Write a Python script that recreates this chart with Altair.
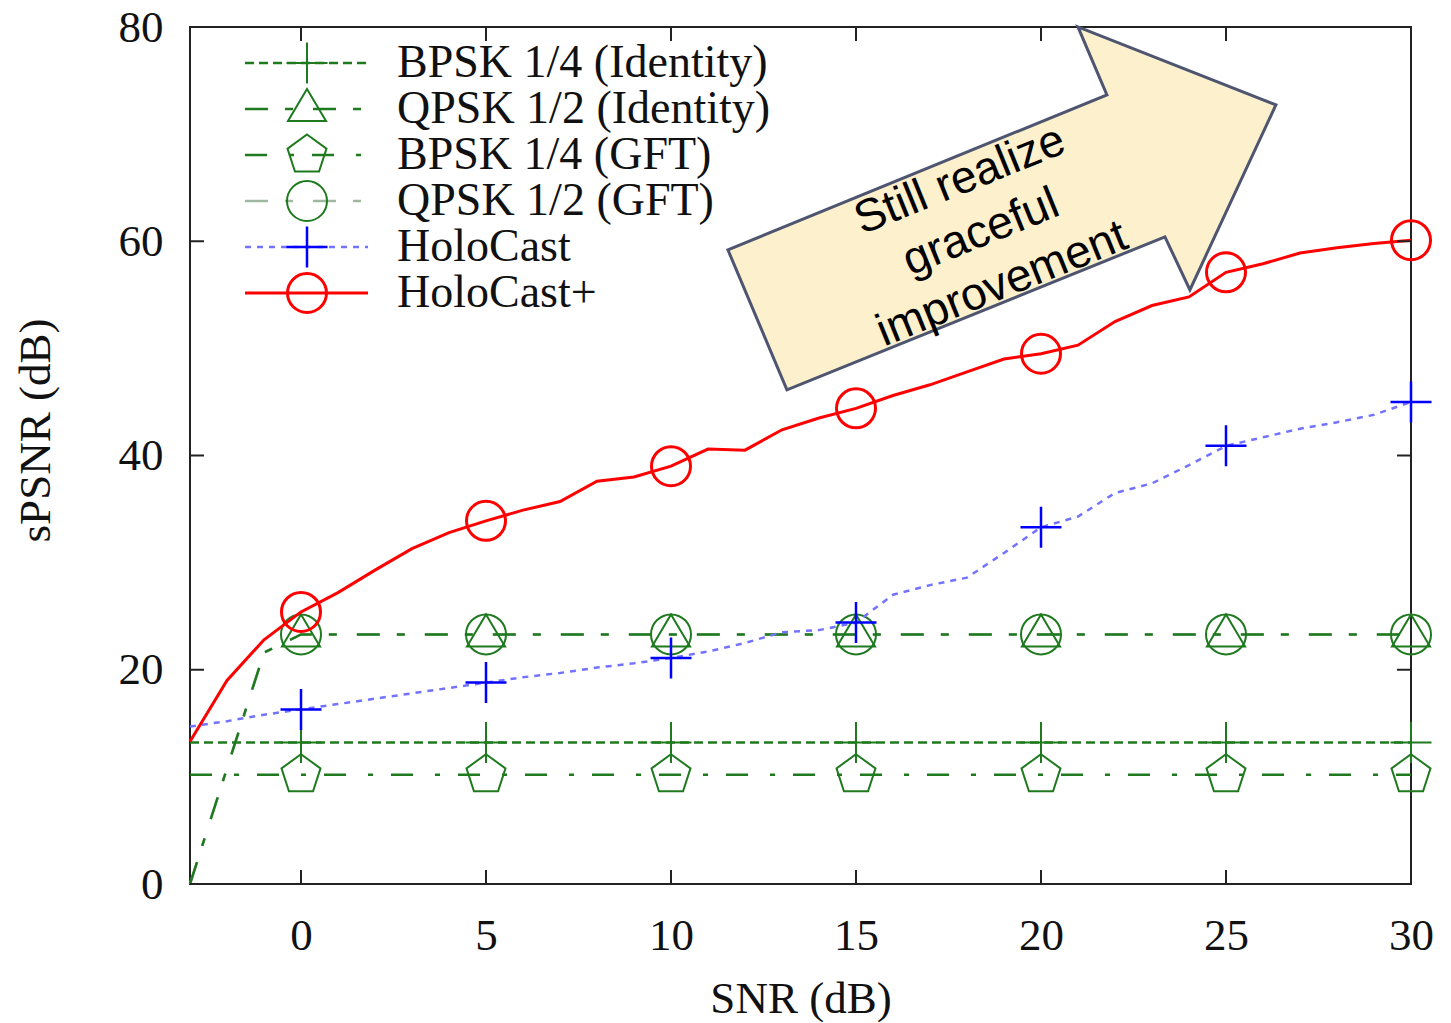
import altair as alt
import pandas as pd

# ---------------- data ----------------
series_names = ["BPSK 1/4 (Identity)", "QPSK 1/2 (Identity)", "BPSK 1/4 (GFT)",
                "QPSK 1/2 (GFT)", "HoloCast", "HoloCast+"]

snr_green = [-3, -2, -1, 0, 5, 10, 15, 20, 25, 30]
bpsk_identity = [13.2, 13.2, 13.2, 13.2, 13.2, 13.2, 13.2, 13.2, 13.2, 13.2]
qpsk_identity = [0.0, 10.8, 21.6, 23.3, 23.3, 23.3, 23.3, 23.3, 23.3, 23.3]
bpsk_gft = [10.2, 10.2, 10.2, 10.2, 10.2, 10.2, 10.2, 10.2, 10.2, 10.2]
qpsk_gft = [0.0, 10.8, 21.6, 23.3, 23.3, 23.3, 23.3, 23.3, 23.3, 23.3]

snr_fine = [-3, -2, -1, 0, 1, 2, 3, 4, 5, 6, 7, 8, 9, 10, 11, 12, 13, 14, 15, 16,
            17, 18, 19, 20, 21, 22, 23, 24, 25, 26, 27, 28, 29, 30]
holocast = [14.7, 15.2, 15.8, 16.3, 16.8, 17.3, 17.8, 18.3, 18.8, 19.3, 19.7, 20.2,
            20.6, 21.1, 21.7, 22.5, 23.5, 23.7, 24.4, 27.0, 27.9, 28.6, 30.9, 33.3,
            34.3, 36.5, 37.4, 39.1, 40.9, 41.7, 42.5, 43.1, 43.8, 45.0]
holocast_plus = [13.3, 19.0, 22.8, 25.4, 27.2, 29.3, 31.3, 32.8, 33.9, 34.9, 35.7, 37.6,
                 38.0, 39.0, 40.6, 40.5, 42.4, 43.5, 44.4, 45.6, 46.6, 47.8, 49.0, 49.5,
                 50.3, 52.5, 54.0, 54.8, 57.1, 57.9, 58.9, 59.4, 59.8, 60.1]

x_ticks = [0, 5, 10, 15, 20, 25, 30]
y_ticks = [0, 20, 40, 60, 80]

annotation_lines = ["Still realize", "graceful", "improvement"]
arrow_x = [18.89]
arrow_y = [62.93]
text_x = [17.81]
text_y = [65.7]

# ---------------- table ----------------
series_x = [snr_green, snr_green, snr_green, snr_green, snr_fine, snr_fine]
series_y = [bpsk_identity, qpsk_identity, bpsk_gft, qpsk_gft, holocast, holocast_plus]
rows = []
for name, xs, ys in zip(series_names, series_x, series_y):
    for xv, yv in zip(xs, ys):
        rows.append({"series": name, "snr": xv, "val": yv})
df = pd.DataFrame(rows)

# ---------------- styles ----------------
GREEN = "#1f7a1f"
PLUS = "M-1,0L1,0M0,-1L0,1"
TRI = "M0,-1L0.95,0.6L-0.95,0.6Z"
PENT = "M0,-1L0.951,-0.309L0.588,0.809L-0.588,0.809L-0.951,-0.309Z"

line_colors = [GREEN, GREEN, GREEN, "#9fb89f", "#7373ff", "#ff0000"]
marker_colors = [GREEN, GREEN, GREEN, GREEN, "#0000ff", "#ff0000"]
dashes = [[9, 5], [23, 17, 8, 20], [22, 22, 5, 18], [23, 17, 8, 20], [6, 6], None]
line_widths = [2.5, 2.5, 2.5, 2.5, 2.5, 3]
shapes = [PLUS, TRI, PENT, "circle", PLUS, "circle"]
sizes = [1681, 1600, 1681, 1600, 1681, 1521]
marker_widths = [2, 2, 2, 2, 2.5, 3]
draw_order = [2, 3, 1, 0, 4, 5]

W, H = 1221, 857
SERIF = "Liberation Serif"
FS = 45

xscale = alt.Scale(domain=[-3, 30], nice=False, zero=False)
yscale = alt.Scale(domain=[0, 80], nice=False, zero=False)

x_axis = alt.Axis(
    values=x_ticks, title="SNR (dB)", grid=False, ticks=False, tickSize=0, domain=False,
    labelFont=SERIF, labelFontSize=FS, labelColor="#111111", labelPadding=29,
    labelFlush=False, labelOverlap=False,
    titleFont=SERIF, titleFontSize=FS, titleFontWeight="normal", titleColor="#111111",
    titleY=114, titleBaseline="middle")
y_axis = alt.Axis(
    values=y_ticks, title="sPSNR (dB)", grid=False, ticks=False, tickSize=0, domain=False,
    labelFont=SERIF, labelFontSize=FS, labelColor="#111111", labelPadding=27,
    labelFlush=False, labelOverlap=False,
    titleFont=SERIF, titleFontSize=FS, titleFontWeight="normal", titleColor="#111111",
    titleX=-155, titleY=403, titleBaseline="middle")
X = alt.X("snr:Q", scale=xscale, axis=x_axis)
Y = alt.Y("val:Q", scale=yscale, axis=y_axis)

layers = []
for i in draw_order:
    name = series_names[i]
    kw = dict(color=line_colors[i], strokeWidth=line_widths[i])
    if dashes[i] is not None:
        kw["strokeDash"] = dashes[i]
    base = alt.Chart(df).transform_filter(alt.datum.series == name)
    layers.append(base.mark_line(**kw).encode(x=X, y=Y))
    layers.append(base.transform_filter("datum.snr >= 0 && datum.snr % 5 == 0").mark_point(
        shape=shapes[i], size=sizes[i], filled=False, color=marker_colors[i],
        strokeWidth=marker_widths[i], opacity=1).encode(x=X, y=Y))

# inward ticks on all four sides
xt = pd.DataFrame({"snr": x_ticks})
yt = pd.DataFrame({"val": y_ticks})
TL = 14
for y0, y1 in [(H, H - TL), (0, TL)]:
    layers.append(alt.Chart(xt).mark_rule(color="#222222", strokeWidth=2).encode(
        x=X, y=alt.value(y0), y2=alt.value(y1)))
for x0, x1 in [(0, TL), (W, W - TL)]:
    layers.append(alt.Chart(yt).mark_rule(color="#222222", strokeWidth=2).encode(
        y=Y, x=alt.value(x0), x2=alt.value(x1)))

# manual legend (gnuplot style: line sample + marker + label)
for i, name in enumerate(series_names):
    ly = 36 + 46 * i
    ldf = pd.DataFrame({"series": [name]})
    kw = dict(color=line_colors[i], strokeWidth=line_widths[i])
    if dashes[i] is not None:
        kw["strokeDash"] = dashes[i]
    layers.append(alt.Chart(ldf).mark_rule(**kw).encode(
        x=alt.value(55), x2=alt.value(178), y=alt.value(ly)))
    layers.append(alt.Chart(ldf).mark_point(
        shape=shapes[i], size=sizes[i], filled=False, color=marker_colors[i],
        strokeWidth=marker_widths[i], opacity=1).encode(x=alt.value(117), y=alt.value(ly)))
    layers.append(alt.Chart(ldf).mark_text(
        align="left", baseline="middle", font=SERIF, fontSize=46, color="#111111").encode(
        x=alt.value(207), y=alt.value(ly), text="series:N"))

# block arrow annotation
ARROW = ("M-2.72,0.40L1.07,-1.15L0.78,-1.83L2.76,-1.05L1.90,0.80"
         "L1.65,0.27L-2.13,1.80Z")
adf = pd.DataFrame({"snr": arrow_x, "val": arrow_y})
layers.append(alt.Chart(adf).mark_point(
    shape=ARROW, size=40000, filled=True, fill="#fdf0cd", stroke="#4d5570",
    strokeWidth=3, opacity=1).encode(x=X, y=Y))
tdf = pd.DataFrame({"snr": text_x, "val": text_y})
layers.append(alt.Chart(tdf).mark_text(
    text=annotation_lines, font="Liberation Sans", fontSize=46, lineHeight=56,
    angle=338, align="center", baseline="middle", color="#000000").encode(x=X, y=Y))

chart = alt.layer(*layers).properties(
    width=W, height=H,
    autosize=alt.AutoSizeParams(type="none"),
    padding={"left": 182, "top": 19, "right": 30, "bottom": 138},
).configure_view(stroke="#222222", strokeWidth=2)

chart.save("out.html", embed_options={"renderer": "svg", "actions": False})
